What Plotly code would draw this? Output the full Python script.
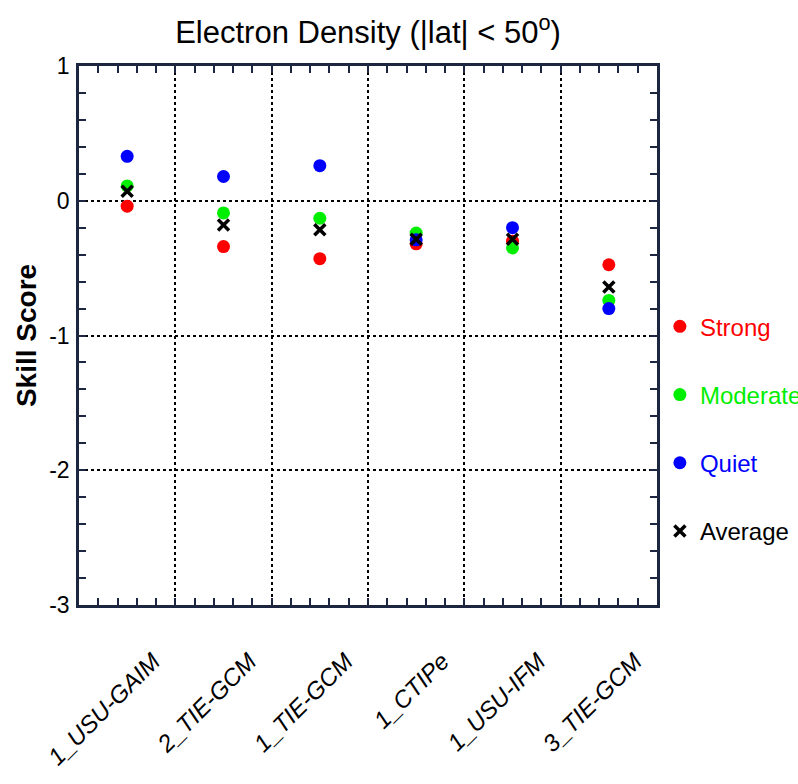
import plotly.graph_objects as go

models = ["1_USU-GAIM", "2_TIE-GCM", "1_TIE-GCM", "1_CTIPe", "1_USU-IFM", "3_TIE-GCM"]
strong = [-0.04, -0.34, -0.43, -0.32, -0.30, -0.475]
moderate = [0.11, -0.09, -0.13, -0.24, -0.35, -0.74]
quiet = [0.33, 0.18, 0.26, -0.29, -0.20, -0.80]
average = [0.07, -0.18, -0.215, -0.285, -0.285, -0.64]

AXC = "#1c2640"
fig = go.Figure()

series = [
    ("Strong", strong, "#ff0000"),
    ("Moderate", moderate, "#00ee00"),
    ("Quiet", quiet, "#0000ff"),
]
for name, vals, col in series:
    fig.add_trace(go.Scatter(
        x=models, y=vals, mode="markers",
        name=f"<span style='color:{col}'>{name}</span>",
        legendgroup=name,
        marker=dict(color=col, size=13, symbol="circle"),
    ))
fig.add_trace(go.Scatter(
    x=models, y=average, mode="markers",
    name="Average", legendgroup="Average",
    marker=dict(color="black", size=11, symbol="x-thin", line=dict(color="black", width=3.5)),
))
# empty traces that only register the linear overlay axes used for the small ticks
for ax in ("x2", "x3"):
    fig.add_trace(go.Scatter(x=[None], y=[None], xaxis=ax, yaxis="y", mode="markers",
                             showlegend=False, hoverinfo="skip"))

tick_axis = dict(overlaying="x", anchor="y", range=[-0.5, 5.5],
                 tickmode="linear", tick0=-0.5, dtick=0.2, ticks="inside", ticklen=7,
                 tickcolor=AXC, tickwidth=1.5, showticklabels=False, showgrid=False,
                 showline=True, linecolor=AXC, linewidth=2.5, zeroline=False)

fig.update_layout(
    width=798, height=784,
    paper_bgcolor="white", plot_bgcolor="white",
    margin=dict(l=79, r=141, t=66, b=179, autoexpand=False),
    font=dict(family="Liberation Sans, Arial, sans-serif", color="black"),
    title=dict(text="Electron Density (|lat| < 50<sup>o</sup>)", x=(79 + 657) / 2 / 798, xanchor="center",
               y=1 - 32 / 784, yanchor="middle", yref="container",
               font=dict(size=31, color="black")),
    showlegend=True,
    legend=dict(x=1.005, xanchor="left", y=0.558, yanchor="top",
                font=dict(size=24, color="black"), tracegroupgap=34,
                bgcolor="rgba(0,0,0,0)", borderwidth=0),
    xaxis=dict(type="category", range=[-0.5, 5.5], tickson="boundaries",
               showgrid=True, gridcolor="black", gridwidth=2, griddash="dot",
               showline=True, linecolor=AXC, linewidth=2.5, mirror="allticks",
               ticks="inside", ticklen=7, tickcolor=AXC, tickwidth=1.5,
               tickangle=-45,
               tickfont=dict(size=24, style="italic",
                             family="Liberation Sans, Arial, sans-serif"),
               ticklabelshift=26, ticklabelstandoff=30, zeroline=False),
    xaxis2=dict(side="bottom", **tick_axis),
    xaxis3=dict(side="top", **tick_axis),
    yaxis=dict(range=[-3, 1], tickvals=[-3, -2, -1, 0, 1],
               ticktext=["-3", "-2", "-1", "0", "1"],
               showgrid=True, gridcolor="black", gridwidth=2, griddash="dot",
               showline=True, linecolor=AXC, linewidth=2.5, mirror="allticks",
               ticks="inside", ticklen=7, tickcolor=AXC, tickwidth=1.5,
               minor=dict(tick0=0, dtick=0.2, ticks="inside", ticklen=7, tickcolor=AXC,
                          tickwidth=1.5, showgrid=False),
               tickfont=dict(size=23, family="Liberation Sans Narrow, Liberation Sans, Arial"),
               ticklabelstandoff=2, zeroline=False,
               title=dict(text="<b>Skill Score</b>", font=dict(size=28), standoff=5)),
)

fig.write_html("out.html")
